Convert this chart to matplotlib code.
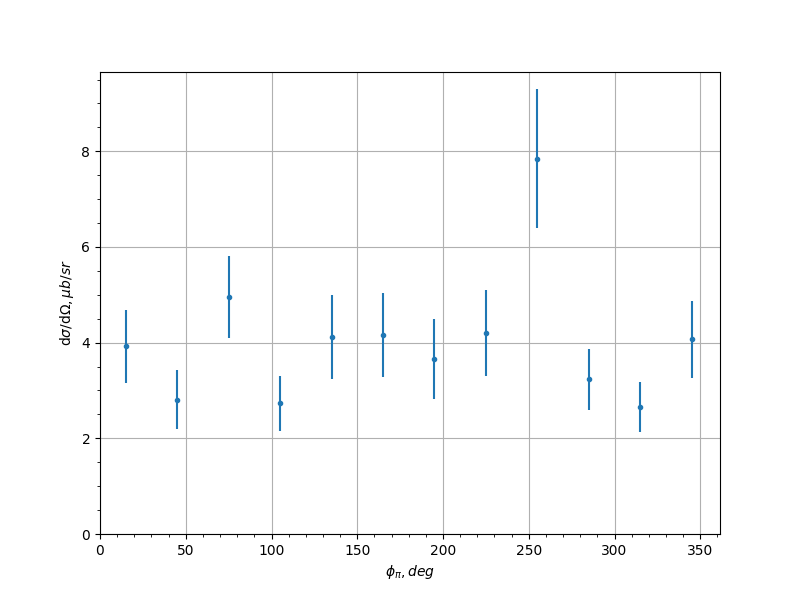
import matplotlib
matplotlib.use('Agg')
import matplotlib.pyplot as plt
import numpy as np

# Datos
phi = np.array([15, 45, 75, 105, 135, 165, 195, 225, 255, 285, 315, 345])
xsec = np.array([3.92, 2.81, 4.96, 2.73, 4.12, 4.16, 3.66, 4.20, 7.85, 3.23, 2.65, 4.07])
xsec_err = np.array([0.76, 0.62, 0.86, 0.57, 0.88, 0.88, 0.83, 0.90, 1.45, 0.63, 0.52, 0.81])

fig, ax = plt.subplots(figsize=(8, 6), dpi=100)
ax.errorbar(phi, xsec, yerr=xsec_err, fmt='.')
ax.set_xlim(left=0)
ax.set_ylim(bottom=0)
ax.minorticks_on()
ax.grid(True, which='major')
ax.set_xlabel(r'$\phi_\pi, deg$')
ax.set_ylabel(r'd$\sigma$/d$\Omega, \mu b/sr$')
fig.savefig('out.png')
